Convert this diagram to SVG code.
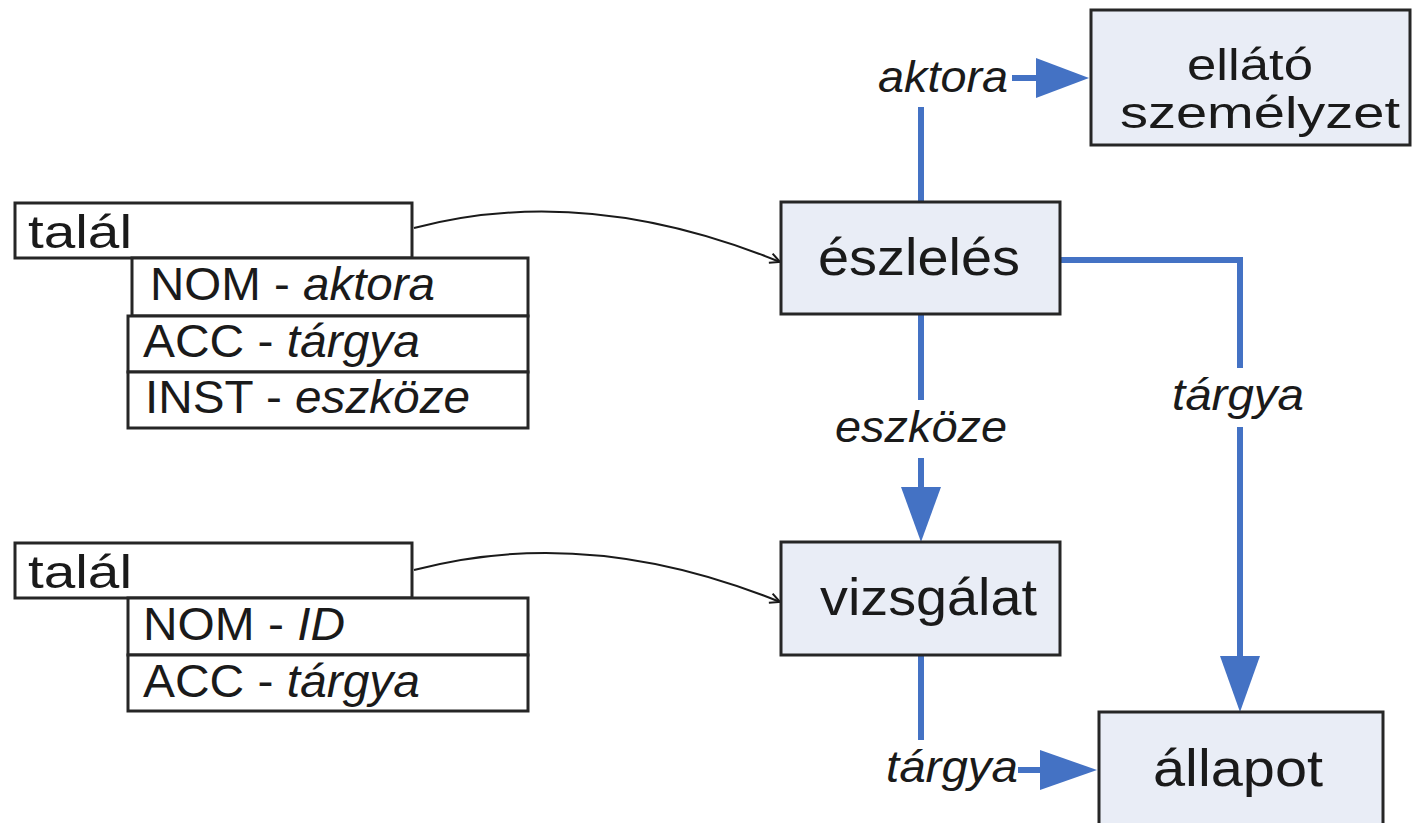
<svg xmlns="http://www.w3.org/2000/svg" width="1421" height="823" viewBox="0 0 1421 823">
<style>
.box{fill:#e9edf6;stroke:#262626;stroke-width:3}
.wbox{fill:#ffffff;stroke:#262626;stroke-width:3}
.t{font-family:"Liberation Sans",Arial,sans-serif;fill:#1a1a1a}
.big{font-size:52px}
.two{font-size:45px}
.mid{font-size:46px}
.lab{font-size:44px;font-style:italic}
.i{font-style:italic}
.blue{stroke:#4472c4;stroke-width:6;fill:none}
.thin{stroke:#1a1a1a;stroke-width:2;fill:none}
</style>
<defs>
<marker id="oh" markerWidth="14" markerHeight="14" refX="12" refY="7" orient="auto" markerUnits="userSpaceOnUse" viewBox="0 0 14 14">
<path d="M2,2 L12,7 L2,12" fill="none" stroke="#1a1a1a" stroke-width="2"/>
</marker>
</defs>
<rect width="1421" height="823" fill="#ffffff"/>

<g id="connectors">
<path class="thin" d="M414,228 C520,200 640,205 780,262" marker-end="url(#oh)"/>
<path class="thin" d="M414,570 C520,542 640,545 780,602" marker-end="url(#oh)"/>
<line class="blue" x1="921" y1="202" x2="921" y2="107"/>
<line class="blue" x1="1012" y1="78" x2="1040" y2="78"/>
<path d="M1036,58 L1089,78 L1036,98 Z" fill="#4472c4"/>
<line class="blue" x1="921" y1="314" x2="921" y2="400"/>
<line class="blue" x1="921" y1="458" x2="921" y2="490"/>
<path d="M901,487 L921,542 L941,487 Z" fill="#4472c4"/>
<polyline class="blue" points="1060,260 1240,260 1240,368"/>
<line class="blue" x1="1240" y1="427" x2="1240" y2="660"/>
<path d="M1220,656 L1240,712 L1260,656 Z" fill="#4472c4"/>
<line class="blue" x1="921" y1="655" x2="921" y2="740"/>
<line class="blue" x1="1018" y1="770" x2="1044" y2="770"/>
<path d="M1040,750 L1097,770 L1040,790 Z" fill="#4472c4"/>
<text class="t lab" x="878" y="92" textLength="130" lengthAdjust="spacingAndGlyphs">aktora</text>
<text class="t lab" x="835" y="442" textLength="172" lengthAdjust="spacingAndGlyphs">eszköze</text>
<text class="t lab" x="1172" y="410" textLength="132" lengthAdjust="spacingAndGlyphs">tárgya</text>
<text class="t lab" x="886" y="782" textLength="132" lengthAdjust="spacingAndGlyphs">tárgya</text>
</g>

<g id="ellato">
<rect class="box" x="1091" y="10" width="319" height="135"/>
<text class="t two" x="1187" y="80" textLength="126" lengthAdjust="spacingAndGlyphs">ellátó</text>
<text class="t two" x="1120" y="128" textLength="280" lengthAdjust="spacingAndGlyphs">személyzet</text>
</g>

<g id="eszleles">
<rect class="box" x="781" y="202" width="279" height="112"/>
<text class="t big" x="818" y="275" textLength="202" lengthAdjust="spacingAndGlyphs">észlelés</text>
</g>

<g id="vizsgalat">
<rect class="box" x="781" y="542" width="279" height="113"/>
<text class="t big" x="820" y="615" textLength="217" lengthAdjust="spacingAndGlyphs">vizsgálat</text>
</g>

<g id="allapot">
<rect class="box" x="1099" y="712" width="284" height="120"/>
<text class="t big" x="1153" y="786" textLength="170" lengthAdjust="spacingAndGlyphs">állapot</text>
</g>

<g id="talal1">
<rect class="wbox" x="15" y="203" width="397" height="55"/>
<text class="t mid" x="28" y="248" textLength="104" lengthAdjust="spacingAndGlyphs">talál</text>
<rect class="wbox" x="132" y="258" width="396" height="58"/>
<text class="t mid" x="150" y="300" textLength="285" lengthAdjust="spacingAndGlyphs">NOM - <tspan class="i">aktora</tspan></text>
<rect class="wbox" x="128" y="316" width="400" height="56"/>
<text class="t mid" x="143" y="357" textLength="277" lengthAdjust="spacingAndGlyphs">ACC - <tspan class="i">tárgya</tspan></text>
<rect class="wbox" x="128" y="372" width="400" height="56"/>
<text class="t mid" x="145" y="413" textLength="325" lengthAdjust="spacingAndGlyphs">INST - <tspan class="i">eszköze</tspan></text>
</g>

<g id="talal2">
<rect class="wbox" x="15" y="543" width="397" height="55"/>
<text class="t mid" x="28" y="588" textLength="104" lengthAdjust="spacingAndGlyphs">talál</text>
<rect class="wbox" x="128" y="598" width="400" height="57"/>
<text class="t mid" x="143" y="640" textLength="202" lengthAdjust="spacingAndGlyphs">NOM - <tspan class="i">ID</tspan></text>
<rect class="wbox" x="128" y="655" width="400" height="56"/>
<text class="t mid" x="143" y="697" textLength="277" lengthAdjust="spacingAndGlyphs">ACC - <tspan class="i">tárgya</tspan></text>
</g>
</svg>
